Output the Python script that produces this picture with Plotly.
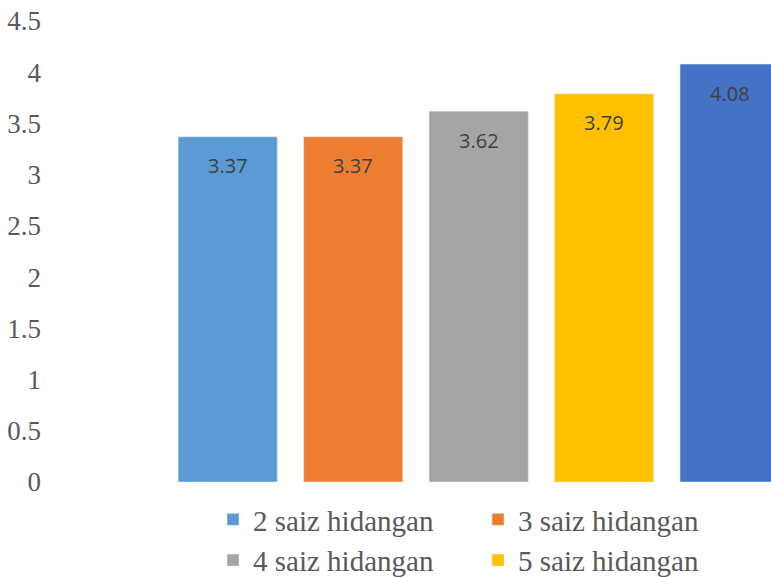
import plotly.graph_objects as go

categories = ["2 saiz hidangan", "3 saiz hidangan", "4 saiz hidangan", "5 saiz hidangan", "6 saiz hidangan"]
values = [3.37, 3.37, 3.62, 3.79, 4.08]
colors = ["#5B9BD5", "#ED7D31", "#A5A5A5", "#FFC000", "#4472C4"]
tick_vals = [0, 0.5, 1, 1.5, 2, 2.5, 3, 3.5, 4, 4.5]
tick_text = ["0", "0.5", "1", "1.5", "2", "2.5", "3", "3.5", "4", "4.5"]

fig = go.Figure()
for i, (cat, val, col) in enumerate(zip(categories, values, colors)):
    fig.add_trace(go.Bar(
        x=[i], y=[val], name=cat, marker_color=col, width=0.79,
        hoverinfo="skip",
    ))
    fig.add_annotation(
        x=i, y=val, text=f"{val:.2f}", showarrow=False, yshift=-29,
        font=dict(family="Open Sans", size=20, color="#404040"),
    )

fig.update_layout(
    width=771, height=577,
    margin=dict(l=42, r=0, t=21, b=95, autoexpand=False),
    paper_bgcolor="white", plot_bgcolor="white",
    barmode="overlay",
    showlegend=True,
    legend=dict(
        orientation="h", x=0.2346, xanchor="left", y=-0.026, yanchor="top",
        entrywidth=220, entrywidthmode="pixels",
        font=dict(family="Liberation Serif", size=29, color="#595959"),
        traceorder="normal", itemclick=False,
    ),
    xaxis=dict(range=[-1.48, 4.33], showticklabels=False, showgrid=False,
               zeroline=False, showline=False, ticks=""),
    yaxis=dict(range=[0, 4.5], tickvals=tick_vals, ticktext=tick_text,
               showgrid=False, zeroline=False, showline=False,
               ticklabeloverflow="allow",
               tickfont=dict(family="Liberation Serif", size=27, color="#595959")),
)

fig.write_html(
    "out.html",
    config={"displayModeBar": False},
    post_script="document.body.style.margin='0';document.body.style.overflow='hidden';",
)
